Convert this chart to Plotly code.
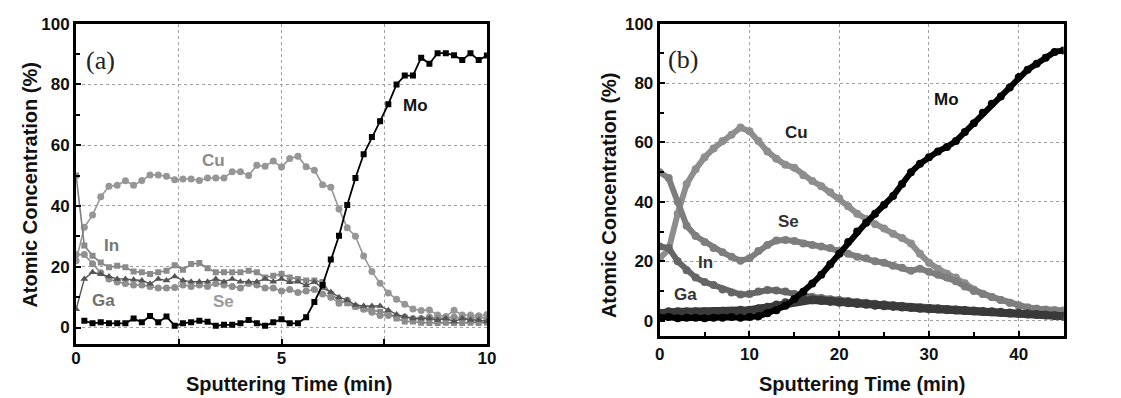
import plotly.graph_objects as go

# ---------------- Panel (a) data ----------------
t_a = [round(0.2 * i, 1) for i in range(51)]          # 0.0 ... 10.0 min
t_a_mo = t_a[1:]                                        # Mo starts at 0.2 min

mo_a = [2.2, 1.4, 1.7, 1.4, 1.4, 1.4, 3.0, 1.7, 3.8, 1.7,
        3.6, 0.6, 1.4, 1.7, 2.2, 1.9, 0.6, 0.9, 0.9, 1.4,
        2.5, 1.4, 0.6, 1.7, 2.7, 1.4, 1.4, 3.4, 8.4, 14.0,
        22.4, 30.2, 40.3, 49.2, 57.0, 62.7, 67.9, 73.5, 80.0, 82.9,
        82.9, 88.8, 86.8, 90.3, 90.3, 89.6, 88.0, 90.3, 88.0, 89.5]

cu_a = [22.0, 33.0, 37.0, 43.0, 46.5, 46.8, 48.3, 46.8, 48.4, 50.2,
        50.2, 49.8, 48.6, 48.9, 48.9, 48.4, 49.2, 49.2, 49.2, 51.3,
        51.3, 50.0, 53.4, 53.1, 54.8, 52.8, 55.6, 56.4, 52.9, 51.8,
        47.0, 46.2, 39.0, 32.8, 30.0, 23.5, 18.4, 14.6, 11.4, 9.3,
        7.7, 6.1, 5.6, 5.8, 4.1, 3.6, 5.7, 4.1, 4.1, 3.9, 4.3]

in_a = [50.0, 27.0, 23.6, 21.4, 19.8, 20.3, 19.8, 18.4, 18.2, 17.6,
        18.2, 18.7, 20.5, 19.0, 20.9, 21.2, 19.5, 18.2, 18.2, 18.2,
        18.2, 18.7, 18.2, 16.5, 17.0, 17.6, 16.5, 16.0, 15.5, 15.5,
        15.0, 11.0, 9.0, 8.0, 6.8, 6.3, 5.7, 5.2, 4.9, 3.0,
        2.0, 2.0, 1.6, 1.5, 1.5, 1.6, 1.5, 1.5, 1.6, 1.5, 1.6]

ga_a = [6.0, 16.0, 18.2, 17.6, 16.8, 16.0, 16.0, 15.7, 15.5, 14.4,
        16.0, 15.5, 16.8, 15.5, 15.1, 15.1, 15.1, 16.0, 15.1, 16.0,
        15.1, 15.1, 15.1, 16.0, 15.1, 16.0, 14.9, 15.1, 13.8, 15.0,
        13.0, 11.7, 10.0, 9.0, 7.4, 7.1, 7.1, 7.1, 5.7, 4.3,
        3.6, 3.0, 3.0, 3.0, 2.5, 3.0, 2.0, 3.0, 2.5, 2.5, 2.0]

se_a = [24.0, 24.0, 21.0, 18.0, 16.0, 15.0, 14.5, 14.0, 14.0, 13.5,
        13.0, 13.0, 13.2, 14.0, 13.5, 14.0, 13.5, 14.5, 14.0, 13.5,
        13.0, 14.5, 14.0, 13.0, 13.0, 12.0, 12.5, 11.5, 12.0, 12.5,
        11.0, 10.0, 8.0, 9.0, 7.0, 6.0, 5.0, 4.0, 4.0, 3.5,
        3.5, 3.0, 3.0, 3.5, 3.0, 3.0, 3.5, 3.0, 3.0, 3.5, 3.0]

# ---------------- Panel (b) data ----------------
t_b = list(range(46))                                   # 0 ... 45 min

cu_b = [21.0, 24.0, 36.0, 46.0, 51.0, 55.0, 58.0, 60.5, 62.6, 65.0,
        63.8, 60.5, 57.0, 54.5, 52.5, 51.5, 49.0, 47.0, 45.3, 43.2,
        41.2, 38.5, 36.0, 34.2, 32.5, 31.0, 29.3, 27.8, 26.0, 22.5,
        19.5, 17.5, 15.8, 14.5, 12.6, 10.5, 9.0, 8.0, 7.0, 6.0,
        5.2, 4.5, 4.0, 3.8, 3.6, 3.5]

se_b = [50.0, 48.0, 40.0, 32.0, 28.5, 26.5, 24.5, 23.0, 21.5, 20.2,
        21.0, 23.5, 25.5, 27.0, 27.2, 26.8, 26.0, 25.5, 25.0, 24.5,
        23.5, 22.5, 21.5, 21.0, 20.0, 19.5, 18.5, 17.8, 16.8, 17.5,
        16.5, 15.5, 14.5, 13.3, 11.5, 10.0, 9.0, 8.0, 7.0, 6.0,
        5.0, 4.3, 4.0, 3.6, 3.3, 3.0]

in_b = [25.0, 24.5, 20.0, 17.0, 14.5, 13.0, 12.0, 10.5, 9.5, 8.8,
        9.0, 9.8, 10.3, 10.2, 9.8, 9.0, 8.5, 8.0, 7.6, 7.2,
        7.0, 6.6, 6.3, 6.0, 5.7, 5.5, 5.3, 5.0, 4.7, 4.5,
        4.3, 4.1, 3.9, 3.7, 3.5, 3.3, 3.1, 2.9, 2.7, 2.5,
        2.3, 2.1, 2.0, 1.9, 1.8, 1.7]

ga_b = [2.5, 3.0, 3.0, 3.0, 3.0, 3.0, 3.0, 3.2, 3.2, 3.5,
        3.5, 4.0, 4.5, 5.3, 6.0, 6.5, 7.0, 7.0, 6.8, 6.5,
        6.2, 6.0, 5.8, 5.5, 5.2, 5.0, 4.8, 4.6, 4.4, 4.2,
        4.0, 3.9, 3.7, 3.6, 3.4, 3.3, 3.1, 3.0, 2.8, 2.6,
        2.5, 2.3, 2.1, 1.9, 1.7, 1.5]

mo_b = [1.0, 1.2, 0.8, 1.0, 1.0, 0.8, 1.0, 1.0, 1.2, 1.0,
        1.2, 1.5, 2.5, 3.5, 5.0, 7.3, 9.7, 12.5, 15.5, 19.0,
        22.5, 26.5, 30.0, 33.0, 36.0, 39.0, 42.0, 46.0, 50.0, 52.8,
        55.0, 57.0, 58.5, 60.5, 63.5, 66.5, 70.0, 73.0, 75.5, 78.5,
        82.0, 84.5, 86.5, 88.5, 90.5, 91.0]

# series labels: (text, x, y, color)
labels_a = [("Cu", 3.34, 55.0, "#8a8a8a"), ("Mo", 8.25, 73.0, "#111111"),
            ("In", 0.85, 27.0, "#777777"), ("Ga", 0.66, 9.0, "#707070"),
            ("Se", 3.6, 8.5, "#9a9a9a")]
labels_b = [("Mo", 32.0, 74.3, "#111111"), ("Cu", 15.2, 63.3, "#222222"),
            ("Se", 14.3, 33.4, "#333333"), ("In", 5.05, 19.6, "#333333"),
            ("Ga", 2.9, 8.8, "#333333")]

W, H = 1121, 398
FONT = "Liberation Sans, Arial, sans-serif"

fig = go.Figure()

# ---- panel (a) traces ----
fig.add_trace(go.Scatter(x=t_a, y=cu_a, mode="lines+markers", xaxis="x", yaxis="y",
                         line=dict(color="#969696", width=1.6),
                         marker=dict(symbol="circle", size=7, color="#969696")))
fig.add_trace(go.Scatter(x=t_a, y=in_a, mode="lines+markers", xaxis="x", yaxis="y",
                         line=dict(color="#7e7e7e", width=1.6),
                         marker=dict(symbol="square", size=6, color="#8a8a8a")))
fig.add_trace(go.Scatter(x=t_a, y=se_a, mode="lines+markers", xaxis="x", yaxis="y",
                         line=dict(color="#8e8e8e", width=1.6),
                         marker=dict(symbol="circle", size=7, color="#8e8e8e")))
fig.add_trace(go.Scatter(x=t_a, y=ga_a, mode="lines+markers", xaxis="x", yaxis="y",
                         line=dict(color="#555555", width=1.4),
                         marker=dict(symbol="triangle-up", size=7, color="#555555")))
fig.add_trace(go.Scatter(x=t_a_mo, y=mo_a, mode="lines+markers", xaxis="x", yaxis="y",
                         line=dict(color="#000000", width=1.8),
                         marker=dict(symbol="square", size=6, color="#000000")))

# ---- panel (b) traces ----
for ys, col, lw, ms in [(cu_b, "#8e8e8e", 6, 8), (se_b, "#7e7e7e", 6, 8), (in_b, "#666666", 6, 8),
                        (ga_b, "#3a3a3a", 8, 9), (mo_b, "#000000", 6, 8)]:
    fig.add_trace(go.Scatter(x=t_b, y=ys, mode="lines+markers", xaxis="x2", yaxis="y2",
                             line=dict(color=col, width=lw),
                             marker=dict(symbol="circle", size=ms, color=col)))

grid = dict(showgrid=True, gridcolor="#a0a0a0", gridwidth=1, griddash="dot",
            showline=True, linecolor="black", linewidth=3, mirror=True,
            ticks="inside", ticklen=5, tickwidth=2, tickcolor="black",
            zeroline=False, tickfont=dict(family=FONT, size=17, color="#111111", weight="bold"))

fig.update_layout(
    width=W, height=H, margin=dict(l=0, r=0, t=0, b=0),
    paper_bgcolor="white", plot_bgcolor="white", showlegend=False,
    xaxis=dict(domain=[72 / W, 488 / W], range=[0, 10], anchor="y",
               tickvals=[0, 2.5, 5, 7.5, 10], ticktext=["0", "", "5", "", "10"],
               ticklabelstandoff=-4, **grid),
    yaxis=dict(domain=[(H - 343) / H, (H - 15) / H], range=[-5.5, 100], anchor="x",
               tickvals=[0, 20, 40, 60, 80, 100],
               minor=dict(tickvals=[10, 30, 50, 70, 90], ticks="inside", ticklen=4,
                          tickwidth=2, tickcolor="black", showgrid=False), **grid),
    xaxis2=dict(domain=[663 / W, 1072 / W], range=[0, 45], anchor="y2",
                tickvals=[0, 10, 20, 30, 40],
                minor=dict(tickvals=[5, 15, 25, 35], ticks="inside", ticklen=4,
                           tickwidth=2, tickcolor="black", showgrid=False),
                ticklabelstandoff=0, **grid),
    yaxis2=dict(domain=[(H - 335) / H, (H - 15) / H], range=[-5.3, 100], anchor="x2",
                tickvals=[0, 20, 40, 60, 80, 100],
                minor=dict(tickvals=[10, 30, 50, 70, 90], ticks="inside", ticklen=4,
                           tickwidth=2, tickcolor="black", showgrid=False), **grid),
)

ann = []
for txt, x, y, c in labels_a:
    ann.append(dict(text=txt, x=x, y=y, xref="x", yref="y", showarrow=False,
                    font=dict(family=FONT, size=17, color=c, weight="bold")))
for txt, x, y, c in labels_b:
    ann.append(dict(text=txt, x=x, y=y, xref="x2", yref="y2", showarrow=False,
                    font=dict(family=FONT, size=17, color=c, weight="bold")))
ann.append(dict(text="(a)", x=0.6, y=88, xref="x", yref="y", showarrow=False,
                font=dict(family="Liberation Serif, Times New Roman, serif", size=26, color="#222")))
ann.append(dict(text="(b)", x=2.6, y=88, xref="x2", yref="y2", showarrow=False,
                font=dict(family="Liberation Serif, Times New Roman, serif", size=26, color="#222")))
# axis titles (placed in page coordinates)
for txt, px, py, ang in [("Atomic Concentration (%)", 25, 180, -90),
                         ("Atomic Concentration (%)", 611, 190, -90),
                         ("Sputtering Time (min)", 288, 384, 0),
                         ("Sputtering Time (min)", 868, 384, 0)]:
    ann.append(dict(text=txt, x=px / W, y=1 - py / H, xref="paper", yref="paper",
                    showarrow=False, textangle=ang, xanchor="center", yanchor="middle",
                    font=dict(family=FONT, size=20, color="#111111", weight="bold")))
fig.update_layout(annotations=ann)

fig.write_html("out.html")
